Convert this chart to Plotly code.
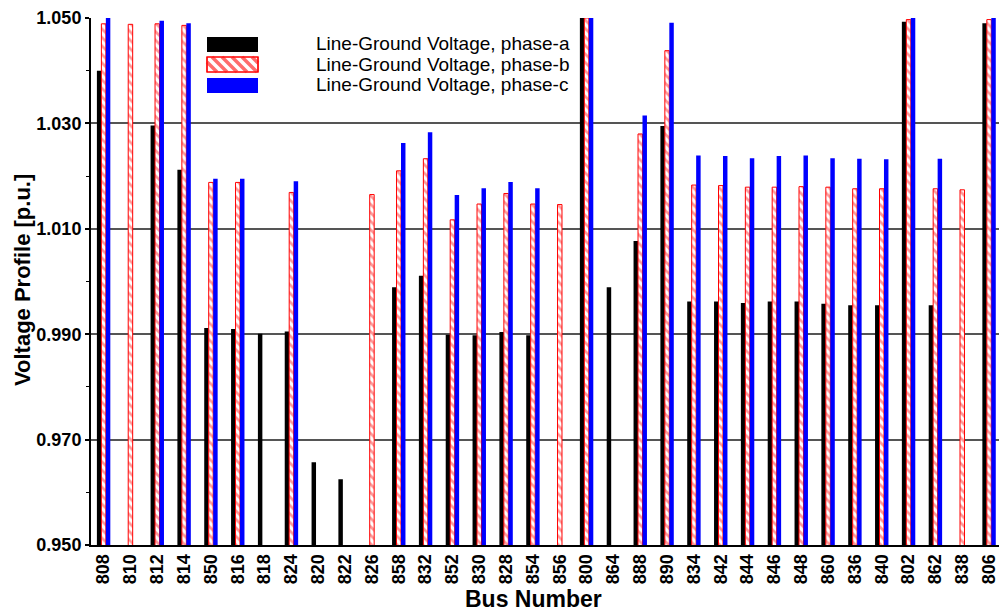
import plotly.graph_objects as go

buses = ["808", "810", "812", "814", "850", "816", "818", "824", "820", "822",
         "826", "858", "832", "852", "830", "828", "854", "856", "800", "864",
         "888", "890", "834", "842", "844", "846", "848", "860", "836", "840",
         "802", "862", "838", "806"]

phase_a = [1.0400, None, 1.0296, 1.0212, 0.9912, 0.9910, 0.9901, 0.9905, 0.9657, 0.9625,
           None, 0.9989, 1.0011, 0.9899, 0.9898, 0.9904, 0.9898, None, 1.0500, 0.9989,
           1.0077, 1.0295, 0.9962, 0.9962, 0.9959, 0.9962, 0.9962, 0.9958, 0.9955, 0.9955,
           1.0493, 0.9955, None, 1.0490]

phase_b = [1.0489, 1.0488, 1.0489, 1.0486, 1.0188, 1.0188, None, 1.0169, None, None,
           1.0165, 1.0210, 1.0233, 1.0117, 1.0147, 1.0167, 1.0147, 1.0146, 1.0500, None,
           1.0280, 1.0438, 1.0183, 1.0182, 1.0179, 1.0179, 1.0180, 1.0179, 1.0176, 1.0176,
           1.0497, 1.0176, 1.0174, 1.0497]

phase_c = [1.0500, None, 1.0495, 1.0490, 1.0195, 1.0195, None, 1.0190, None, None,
           None, 1.0263, 1.0283, 1.0164, 1.0177, 1.0189, 1.0177, None, 1.0500, None,
           1.0315, 1.0491, 1.0239, 1.0238, 1.0234, 1.0238, 1.0239, 1.0234, 1.0233, 1.0232,
           1.0500, 1.0233, None, 1.0500]

y_ticks = [0.950, 0.970, 0.990, 1.010, 1.030, 1.050]
legend_names = ["Line-Ground Voltage, phase-a",
                "Line-Ground Voltage, phase-b",
                "Line-Ground Voltage, phase-c"]

FONT = "Liberation Sans, Arial, sans-serif"
W, H = 999, 611
ML, MR, MT, MB = 91, 0, 18, 66

fig = go.Figure()
fig.add_trace(go.Bar(x=buses, y=phase_a, name=legend_names[0],
                     marker=dict(color="black", line=dict(width=0))))
fig.add_trace(go.Bar(x=buses, y=phase_b, name=legend_names[1],
                     marker=dict(color="white", line=dict(color="red", width=1),
                                 pattern=dict(shape="\\", fgcolor="#ff3030", bgcolor="white",
                                              size=6, solidity=0.45, fillmode="overlay"))))
fig.add_trace(go.Bar(x=buses, y=phase_c, name=legend_names[2],
                     marker=dict(color="#0000ff", line=dict(width=0))))

# custom legend (swatch + text) in paper coordinates
pw = W - ML - MR
ph = H - MT - MB
def px(x):
    return (x - ML) / pw
def py(y):
    return (H - MB - y) / ph

shapes = []
annotations = []
sw_x0, sw_x1 = 207, 258
rows = [(37, 52), (57, 72), (78, 93)]
text_y = [44, 64, 85]
# black swatch
shapes.append(dict(type="rect", xref="paper", yref="paper",
                   x0=px(sw_x0), x1=px(sw_x1), y0=py(rows[0][1]), y1=py(rows[0][0]),
                   fillcolor="black", line=dict(width=0)))
# hatched red swatch
r0, r1 = rows[1]
shapes.append(dict(type="rect", xref="paper", yref="paper",
                   x0=px(sw_x0), x1=px(sw_x1), y0=py(r1), y1=py(r0),
                   fillcolor="white", line=dict(color="red", width=1.2)))
hgt = r1 - r0
path = ""
k = sw_x0 - hgt
while k < sw_x1:
    xa, ya = k, r0
    xb, yb = k + hgt, r1
    if xa < sw_x0:
        ya = r0 + (sw_x0 - xa)
        xa = sw_x0
    if xb > sw_x1:
        yb = r1 - (xb - sw_x1)
        xb = sw_x1
    if xb > xa:
        path += f"M{px(xa)},{py(ya)} L{px(xb)},{py(yb)} "
    k += 10
shapes.append(dict(type="path", xref="paper", yref="paper", path=path,
                   line=dict(color="rgba(255,60,60,0.75)", width=3.5)))
shapes.append(dict(type="rect", xref="paper", yref="paper",
                   x0=px(sw_x0), x1=px(sw_x1), y0=py(r1), y1=py(r0),
                   fillcolor="rgba(0,0,0,0)", line=dict(color="red", width=1.2)))
# blue swatch
shapes.append(dict(type="rect", xref="paper", yref="paper",
                   x0=px(sw_x0), x1=px(sw_x1), y0=py(rows[2][1]), y1=py(rows[2][0]),
                   fillcolor="#0000ff", line=dict(width=0)))
for name, ty in zip(legend_names, text_y):
    annotations.append(dict(text=name, xref="paper", yref="paper", x=px(314), y=py(ty),
                            xanchor="left", yanchor="middle", showarrow=False,
                            font=dict(family=FONT, size=19, color="black")))

annotations.append(dict(text="<b>Bus Number</b>", xref="paper", yref="paper",
                        x=px(533), y=py(599), xanchor="center", yanchor="middle",
                        showarrow=False, font=dict(family=FONT, size=23, color="black")))
annotations.append(dict(text="<b>Voltage Profile [p.u.]</b>", xref="paper", yref="paper",
                        x=px(22), y=py(280), xanchor="center", yanchor="middle",
                        textangle=-90, showarrow=False,
                        font=dict(family=FONT, size=22, color="black")))

fig.update_layout(
    width=W, height=H,
    margin=dict(l=ML, r=MR, t=MT, b=MB, pad=0),
    paper_bgcolor="white", plot_bgcolor="white",
    barmode="group", bargap=0.5, bargroupgap=0,
    showlegend=False,
    shapes=shapes, annotations=annotations,
    font=dict(family=FONT, color="black"),
)
fig.update_xaxes(
    type="category", range=[-0.47, 33.37],
    showline=True, linecolor="black", linewidth=2,
    ticks="", tickangle=-90, showgrid=False,
    tickfont=dict(family=FONT, size=18, color="black", weight="bold"),
)
fig.update_yaxes(
    range=[0.95, 1.05], tickvals=y_ticks, ticktext=[f"{v:.3f}" for v in y_ticks],
    showline=True, linecolor="black", linewidth=2,
    ticks="outside", ticklen=4, tickwidth=1.5, tickcolor="black",
    minor=dict(dtick=0.01, ticks="outside", ticklen=3, tickcolor="black", tickwidth=1, showgrid=False),
    showgrid=True, gridcolor="#555555", gridwidth=1.5,
    zeroline=False,
    tickfont=dict(family=FONT, size=18, color="black", weight="bold"),
)

fig.write_html("out.html")
